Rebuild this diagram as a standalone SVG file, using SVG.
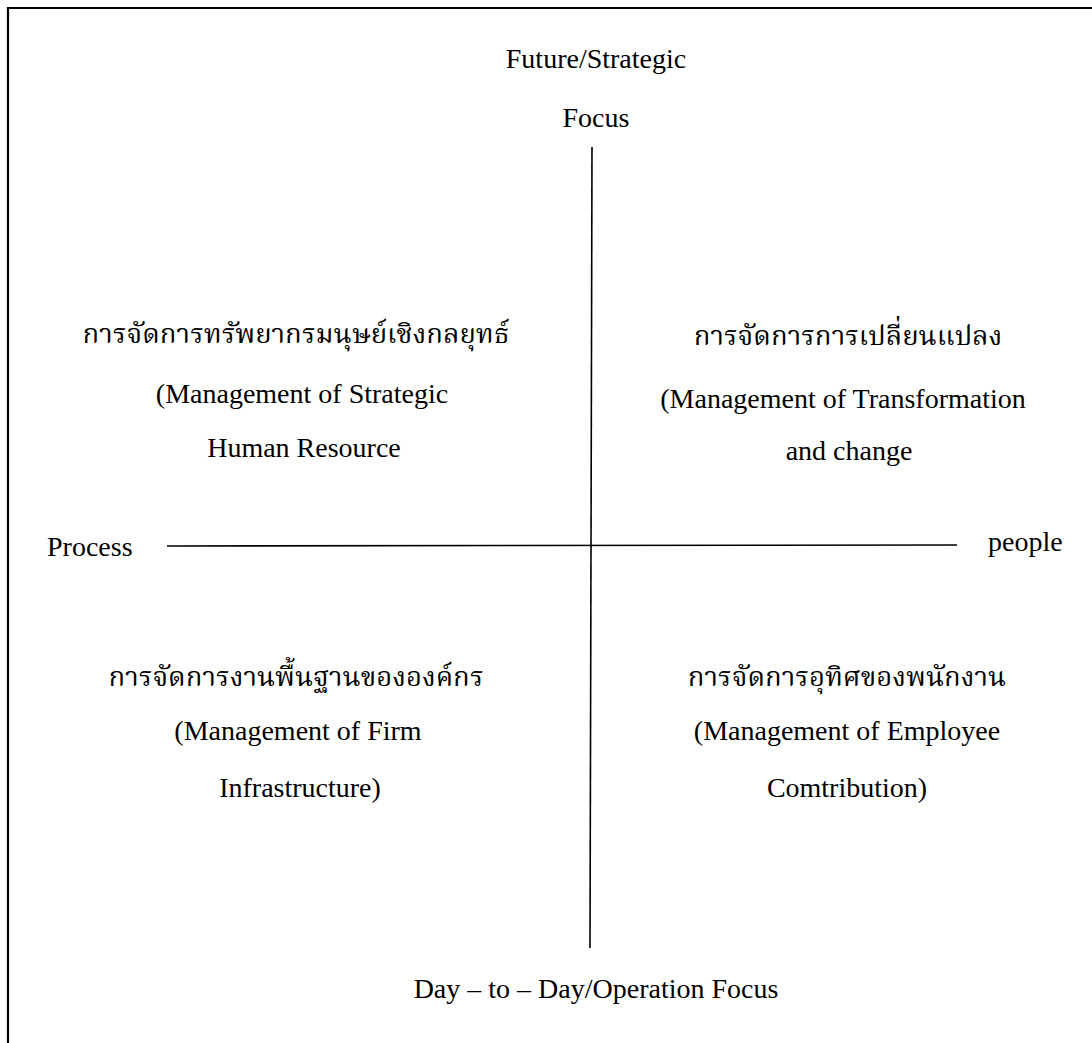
<svg xmlns="http://www.w3.org/2000/svg" width="1092" height="1043" viewBox="0 0 1092 1043">
<style>
text{font-family:"Liberation Serif","Noto Serif Thai","Noto Sans Thai","Norasi","Garuda",serif;font-size:28px;fill:#000}
.m{text-anchor:middle}
.th{font-size:27.5px}
line,path{stroke:#000;fill:none}
</style>
<rect width="1092" height="1043" fill="#fff"/>
<g id="frame"><path d="M8 1043 V8 H1092" stroke-width="2.2"/></g>
<g id="connectors">
<line x1="592" y1="147" x2="590" y2="948" stroke-width="1.6"/>
<line x1="167" y1="546" x2="957" y2="545" stroke-width="1.6"/>
</g>
<g id="top-label"><text class="m" x="596" y="68">Future/Strategic</text><text class="m" x="596" y="127">Focus</text></g>
<g id="bottom-label"><text class="m" x="596" y="998">Day – to – Day/Operation Focus</text></g>
<g id="left-label"><text x="47" y="556">Process</text></g>
<g id="right-label"><text x="988" y="551">people</text></g>
<g id="q-strategic">
<text class="m th" x="296" y="343">การจัดการทรัพยากรมนุษย์เชิงกลยุทธ์</text>
<text class="m" x="302" y="403">(Management of Strategic</text>
<text class="m" x="304" y="457">Human Resource</text>
</g>
<g id="q-change">
<text class="m th" x="848" y="345">การจัดการการเปลี่ยนแปลง</text>
<text class="m" x="843" y="408">(Management of Transformation</text>
<text class="m" x="849" y="460">and change</text>
</g>
<g id="q-infra">
<text class="m th" x="296" y="686">การจัดการงานพื้นฐานขององค์กร</text>
<text class="m" x="298" y="740">(Management of Firm</text>
<text class="m" x="300" y="797">Infrastructure)</text>
</g>
<g id="q-employee">
<text class="m th" x="847" y="686">การจัดการอุทิศของพนักงาน</text>
<text class="m" x="847" y="740">(Management of Employee</text>
<text class="m" x="847" y="797">Comtribution)</text>
</g>
</svg>
